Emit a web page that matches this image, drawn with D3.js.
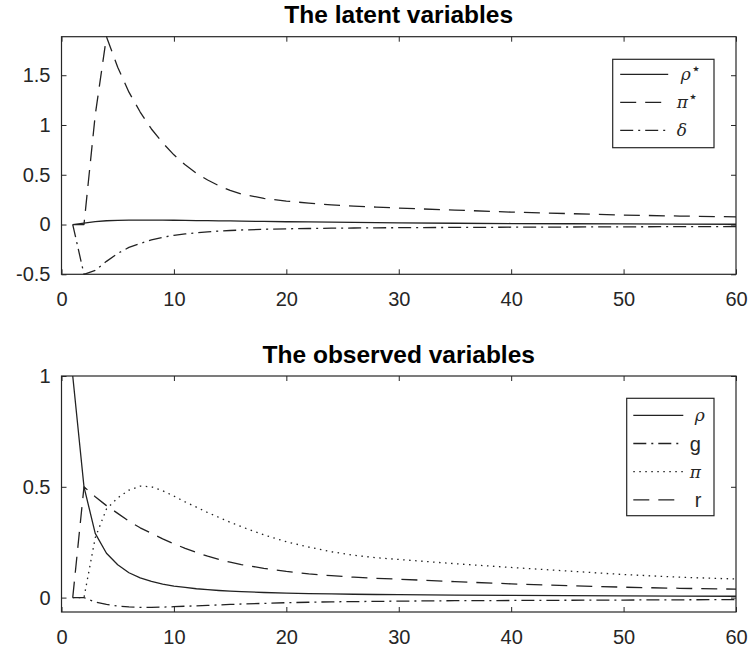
<!DOCTYPE html>
<html>
<head>
<meta charset="utf-8">
<script src="https://cdnjs.cloudflare.com/ajax/libs/d3/7.8.5/d3.min.js"></script>
<style>
  html, body { margin: 0; padding: 0; background: #fff; }
  svg { display: block; }
</style>
</head>
<body>
<svg id="fig" width="751" height="651"></svg>
<script>
// Impulse responses by period
const periods = [1,2,3,4,5,6,7,8,9,10,11,12,13,14,15,16,18,20,22,24,26,28,30,35,40,45,50,55,60];

// Latent variables
const rhoStar = [0,0.015,0.03,0.038,0.042,0.044,0.045,0.045,0.044,0.043,0.042,0.04,0.039,0.037,0.036,0.034,0.031,0.028,0.026,0.024,0.022,0.02,0.017,0.013,0.01,0.008,0.006,0.004,0.003];
const piStar  = [0,0,1.1,1.887,1.58,1.33,1.13,0.96,0.82,0.7,0.6,0.515,0.447,0.39,0.343,0.307,0.263,0.236,0.215,0.198,0.185,0.175,0.165,0.145,0.125,0.11,0.095,0.085,0.077];
const delta   = [0,-0.5,-0.46,-0.37,-0.29,-0.23,-0.19,-0.155,-0.128,-0.108,-0.094,-0.083,-0.073,-0.066,-0.06,-0.055,-0.048,-0.043,-0.04,-0.037,-0.035,-0.033,-0.032,-0.029,-0.027,-0.025,-0.023,-0.021,-0.02];

// Observed variables
const rhoObs = [1,0.5,0.29,0.2,0.148,0.112,0.089,0.073,0.061,0.052,0.046,0.04,0.036,0.032,0.029,0.027,0.023,0.02,0.018,0.017,0.015,0.014,0.013,0.011,0.01,0.009,0.008,0.007,0.006];
const gObs   = [0,0,-0.02,-0.031,-0.038,-0.042,-0.044,-0.044,-0.043,-0.041,-0.039,-0.037,-0.035,-0.033,-0.031,-0.029,-0.026,-0.023,-0.021,-0.019,-0.018,-0.017,-0.016,-0.014,-0.013,-0.012,-0.011,-0.01,-0.009];
const piObs  = [0,0,0.27,0.4,0.45,0.485,0.503,0.5,0.482,0.458,0.432,0.408,0.384,0.362,0.34,0.32,0.283,0.252,0.228,0.207,0.191,0.18,0.172,0.153,0.136,0.12,0.104,0.092,0.084];
const rObs   = [0,0.5,0.455,0.415,0.38,0.345,0.315,0.29,0.265,0.243,0.222,0.204,0.187,0.172,0.16,0.149,0.132,0.118,0.107,0.099,0.092,0.087,0.083,0.072,0.062,0.054,0.047,0.042,0.038];

const xTicks = [0,10,20,30,40,50,60];
const topYTicks = [-0.5,0,0.5,1,1.5];
const botYTicks = [0,0.5,1];

const titles = ["The latent variables", "The observed variables"];

const DASH = "16,9", DASHDOT = "13,5,2,5", DOT = "1.5,4.5";

const svg = d3.select("#fig");
const axisColor = "#262626";
const lineColor = "#222";

function drawPanel(cfg) {
  const { left, right, top, bottom, yDomain, yTicks, title, series, legend } = cfg;
  const x = d3.scaleLinear().domain([0, 60]).range([left, right]);
  const y = d3.scaleLinear().domain(yDomain).range([bottom, top]);
  const g = svg.append("g");

  // white plot area
  g.append("rect").attr("x", left).attr("y", top)
    .attr("width", right - left).attr("height", bottom - top).attr("fill", "#fff");

  // curves, clipped to the axes box
  const clipId = "clip" + Math.round(top);
  svg.append("clipPath").attr("id", clipId).append("rect")
    .attr("x", left).attr("y", top - 1).attr("width", right - left).attr("height", bottom - top + 2);
  const line = d3.line().x((d, i) => x(periods[i])).y(d => y(d));
  const cg = g.append("g").attr("clip-path", `url(#${clipId})`);
  series.forEach(s => {
    cg.append("path").attr("d", line(s.values))
      .attr("fill", "none").attr("stroke", lineColor).attr("stroke-width", 1.3)
      .attr("stroke-dasharray", s.dash || null).attr("stroke-linejoin", "round");
  });

  const styleAxis = sel => {
    sel.select(".domain").remove();
    sel.selectAll("line").attr("stroke", axisColor).attr("stroke-width", 1);
    sel.selectAll("text").attr("fill", axisColor)
      .attr("font-family", "'Liberation Sans', Arial, sans-serif").attr("font-size", 20);
  };

  // ticks pointing inward on all four sides
  g.append("g").attr("transform", `translate(0,${bottom})`)
    .call(d3.axisBottom(x).tickValues(xTicks).tickSize(-5).tickPadding(17.5).tickFormat(d3.format("d")))
    .call(styleAxis);
  g.append("g").attr("transform", `translate(0,${top})`)
    .call(d3.axisTop(x).tickValues(xTicks).tickSize(-5).tickFormat(""))
    .call(styleAxis);
  g.append("g").attr("transform", `translate(${left},0)`)
    .call(d3.axisLeft(y).tickValues(yTicks).tickSize(-5).tickPadding(11).tickFormat(d => String(d)))
    .call(styleAxis);
  g.append("g").attr("transform", `translate(${right},0)`)
    .call(d3.axisRight(y).tickValues(yTicks).tickSize(-5).tickFormat(""))
    .call(styleAxis);

  // axes box
  g.append("rect").attr("x", left).attr("y", top)
    .attr("width", right - left).attr("height", bottom - top)
    .attr("fill", "none").attr("stroke", axisColor).attr("stroke-width", 1.2);

  // title
  g.append("text").attr("x", (left + right) / 2).attr("y", top - 13.5)
    .attr("text-anchor", "middle").attr("font-family", "'Liberation Sans', Arial, sans-serif")
    .attr("font-weight", "bold").attr("font-size", 24.5).attr("fill", "#000").text(title);

  // legend
  const L = legend;
  const lg = g.append("g");
  lg.append("rect").attr("x", L.x).attr("y", L.y).attr("width", L.w).attr("height", L.h)
    .attr("fill", "#fff").attr("stroke", axisColor).attr("stroke-width", 1.2);
  L.rows.forEach((r, i) => {
    const yy = L.y + L.first + i * L.step;
    lg.append("line").attr("x1", L.x + L.lineStart).attr("x2", L.x + L.lineEnd)
      .attr("y1", yy).attr("y2", yy).attr("stroke", lineColor).attr("stroke-width", 1.3)
      .attr("stroke-dasharray", r.dash || null);
    const t = lg.append("text").attr("x", L.x + L.textX + (r.dx || 0)).attr("y", yy).attr("dy", "0.35em")
      .attr("fill", axisColor);
    if (r.greek) {
      t.attr("font-family", "'DejaVu Serif', 'Liberation Serif', serif").attr("font-style", "italic")
        .attr("font-size", 17);
      t.append("tspan").text(r.label);
      if (r.star) {
        t.append("tspan").attr("font-size", 16).attr("font-style", "normal")
          .attr("baseline-shift", "40%").text("\u22C6");
      }
    } else {
      t.attr("font-family", "'Liberation Sans', Arial, sans-serif").attr("font-size", 20).text(r.label);
    }
  });
}

drawPanel({
  left: 61.5, right: 736, top: 36.7, bottom: 274.3,
  yDomain: [-0.5, 1.887], yTicks: topYTicks, title: titles[0],
  series: [
    { values: rhoStar },
    { values: piStar, dash: DASH },
    { values: delta, dash: DASHDOT }
  ],
  legend: {
    x: 612.7, y: 59.3, w: 101.3, h: 88.4, first: 15, step: 28,
    lineStart: 7.5, lineEnd: 55.5, textX: 64,
    rows: [
      { label: "\u03C1", star: true, greek: true, dx: 4 },
      { label: "\u03C0", star: true, greek: true, dash: DASH },
      { label: "\u03B4", greek: true, dash: DASHDOT }
    ]
  }
});

drawPanel({
  left: 61.5, right: 736, top: 376, bottom: 612,
  yDomain: [-0.065, 1], yTicks: botYTicks, title: titles[1],
  series: [
    { values: rhoObs },
    { values: gObs, dash: DASHDOT },
    { values: piObs, dash: DOT },
    { values: rObs, dash: DASH }
  ],
  legend: {
    x: 626.7, y: 398.3, w: 87.3, h: 117.4, first: 17, step: 28.2,
    lineStart: 6.6, lineEnd: 56.6, textX: 63,
    rows: [
      { label: "\u03C1", greek: true, dx: 5 },
      { label: "g", dash: DASHDOT },
      { label: "\u03C0", greek: true, dash: DOT },
      { label: "r", dash: DASH, dx: 5 }
    ]
  }
});
</script>
</body>
</html>
